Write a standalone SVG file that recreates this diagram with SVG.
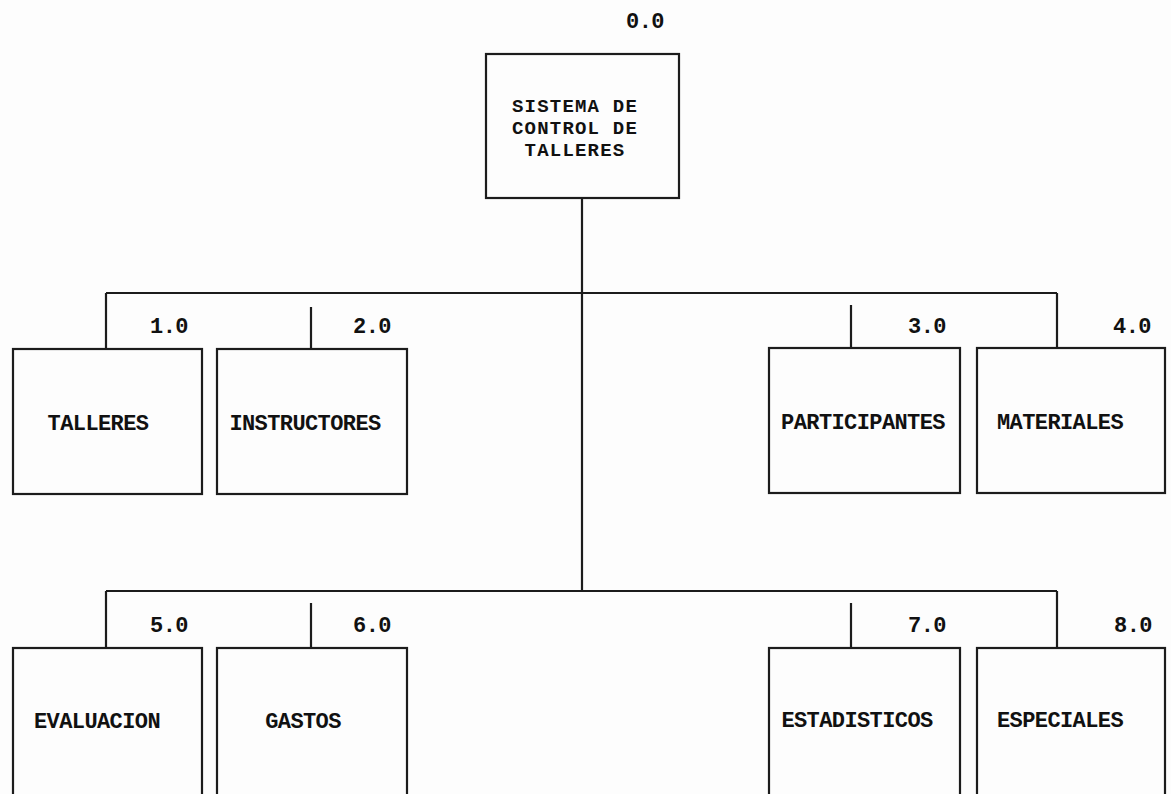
<svg xmlns="http://www.w3.org/2000/svg" width="1171" height="794" viewBox="0 0 1171 794">
<style>
.box{fill:none;stroke:#1c1c1c;stroke-width:2.2}
.ln{fill:none;stroke:#1c1c1c;stroke-width:2.2}
.t{font-family:"Liberation Mono","DejaVu Sans Mono",monospace;font-weight:bold;font-size:22px;letter-spacing:-0.6px;fill:#111;text-anchor:middle}
.tt{font-size:19px;letter-spacing:1.2px}
</style>
<rect width="1171" height="794" fill="#fdfdfd"/>
<g id="connectors">
<path class="ln" d="M582 198 V293 M106 293 H1057 M582 293 V591 M106 591 H1057"/>
<path class="ln" d="M106 293 V349 M311 307 V349 M851 305 V349 M1057 293 V349"/>
<path class="ln" d="M106 591 V648 M311 603 V648 M851 603 V648 M1057 591 V648"/>
</g>
<g id="n0">
<rect class="box" x="486" y="54" width="193" height="144"/>
<text class="t tt" x="575" y="112">SISTEMA DE</text>
<text class="t tt" x="575" y="134">CONTROL DE</text>
<text class="t tt" x="575" y="156">TALLERES</text>
<text class="t" x="645" y="28">0.0</text>
</g>
<g id="n1">
<rect class="box" x="13" y="349" width="189" height="145"/>
<text class="t" x="98" y="430">TALLERES</text>
<text class="t" x="169" y="333">1.0</text>
</g>
<g id="n2">
<rect class="box" x="217" y="349" width="190" height="145"/>
<text class="t" x="305" y="430">INSTRUCTORES</text>
<text class="t" x="372" y="333">2.0</text>
</g>
<g id="n3">
<rect class="box" x="769" y="348" width="191" height="145"/>
<text class="t" x="863" y="429">PARTICIPANTES</text>
<text class="t" x="927" y="333">3.0</text>
</g>
<g id="n4">
<rect class="box" x="977" y="348" width="188" height="145"/>
<text class="t" x="1060" y="429">MATERIALES</text>
<text class="t" x="1132" y="333">4.0</text>
</g>
<g id="n5">
<rect class="box" x="13" y="648" width="189" height="160"/>
<text class="t" x="97" y="728">EVALUACION</text>
<text class="t" x="169" y="632">5.0</text>
</g>
<g id="n6">
<rect class="box" x="217" y="648" width="190" height="160"/>
<text class="t" x="303" y="728">GASTOS</text>
<text class="t" x="372" y="632">6.0</text>
</g>
<g id="n7">
<rect class="box" x="769" y="648" width="191" height="160"/>
<text class="t" x="857" y="727">ESTADISTICOS</text>
<text class="t" x="927" y="632">7.0</text>
</g>
<g id="n8">
<rect class="box" x="977" y="648" width="188" height="160"/>
<text class="t" x="1060" y="727">ESPECIALES</text>
<text class="t" x="1133" y="632">8.0</text>
</g>
</svg>
